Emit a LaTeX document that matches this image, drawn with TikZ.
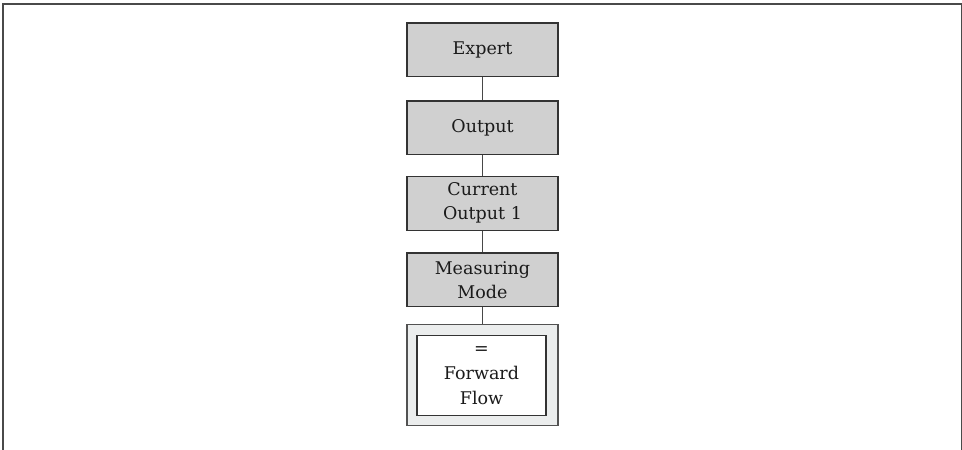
\documentclass[tikz,border=0pt]{standalone}
\usepackage{fontspec}
\setmainfont{DejaVu Serif}
\definecolor{boxgray}{HTML}{D0D0D0}
\definecolor{outerfill}{HTML}{EBEDED}
\definecolor{edge}{HTML}{333333}
\definecolor{frameline}{HTML}{4A4A4A}
\definecolor{txt}{HTML}{1A1A1A}
\begin{document}
\begin{tikzpicture}[x=1pt,y=-1pt,
  menubox/.style={draw=edge, line width=1.1pt, fill=boxgray, minimum width=151pt, minimum height=53.5pt, inner sep=0pt, align=center, text=txt, font=\fontsize{17.5}{24}\selectfont},
  outerbox/.style={draw=edge!85, line width=1.1pt, fill=outerfill, minimum width=151pt, minimum height=101pt, inner sep=0pt},
  innerbox/.style={draw=edge, line width=1.1pt, fill=white, minimum width=129pt, minimum height=80pt, inner sep=0pt, align=center, text=txt, font=\fontsize{17.5}{25}\selectfont},
  link/.style={draw=edge!90, line width=0.9pt}]
\useasboundingbox (0,0) rectangle (962,450);
\draw[frameline, line width=1.6pt] (2.7,450) -- (2.7,3.8) -- (961.3,3.8) -- (961.3,450);
\node[menubox] (expert) at (482.5,49.7) {Expert};
\node[menubox] (output) at (482.5,127.7) {Output};
\node[menubox] (current) at (482.5,203.3) {Current\\Output 1};
\node[menubox] (mode) at (482.5,279.7) {Measuring\\Mode};
\node[outerbox] (outer) at (482.5,375) {};
\node[innerbox] (inner) at (481.5,375.9) {=\\Forward\\Flow};
\draw[link] (expert.south) -- (output.north);
\draw[link] (output.south) -- (current.north);
\draw[link] (current.south) -- (mode.north);
\draw[link] (mode.south) -- (outer.north);
\end{tikzpicture}
\end{document}
